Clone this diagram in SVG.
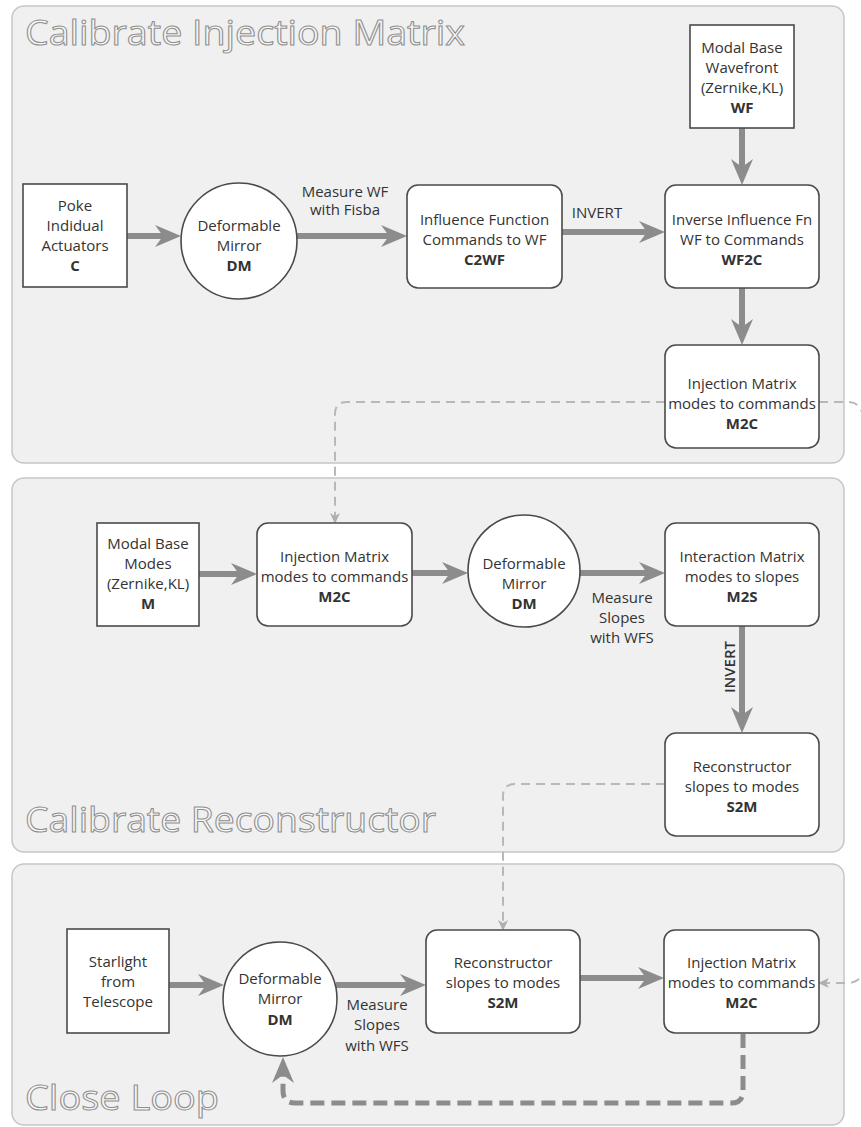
<svg xmlns="http://www.w3.org/2000/svg" width="861" height="1127" viewBox="0 0 861 1127">
<style>
.panel{fill:#f0f0f0;stroke:#c6c6c6;stroke-width:1.5}
.node{fill:#fff;stroke:#4a4a4a;stroke-width:1.6}
.t{font-family:"Open Sans","Noto Sans","DejaVu Sans",sans-serif;font-size:15px;fill:#333;text-anchor:middle}
.b{font-weight:700}
.title{font-family:"Open Sans","Noto Sans","DejaVu Sans",sans-serif;font-size:34px;fill:#f7f7f7;stroke:#8f8f8f;stroke-width:1}
.arrow{stroke:#8c8c8c;stroke-width:6;fill:none}
.dash{stroke:#b8b8b8;stroke-width:2;stroke-dasharray:9 6;fill:none}
.loop{stroke:#8c8c8c;stroke-width:5;stroke-dasharray:14 7;fill:none}
</style>
<defs>
<marker id="head" markerUnits="userSpaceOnUse" viewBox="0 0 26 22" markerWidth="26" markerHeight="22" refX="16" refY="11" orient="auto">
<path d="M0,0 L26,11 L0,22 L8,11 Z" fill="#8c8c8c"/>
</marker>
<marker id="small" markerUnits="userSpaceOnUse" viewBox="0 0 11 10" markerWidth="11" markerHeight="10" refX="9" refY="5" orient="auto">
<path d="M0,0 L11,5 L0,10 L3,5 Z" fill="#b0b0b0"/>
</marker>
</defs>

<g id="panels">
<rect class="panel" x="12" y="6" width="832" height="457" rx="12"/>
<rect class="panel" x="12" y="478" width="832" height="374" rx="12"/>
<rect class="panel" x="12" y="864" width="832" height="261" rx="12"/>
<text class="title" x="25" y="45" textLength="440" lengthAdjust="spacingAndGlyphs">Calibrate Injection Matrix</text>
<text class="title" x="25" y="832" textLength="411" lengthAdjust="spacingAndGlyphs">Calibrate Reconstructor</text>
<text class="title" x="25" y="1110" textLength="194" lengthAdjust="spacingAndGlyphs">Close Loop</text>
</g>

<g id="connectors">
<path class="arrow" d="M127,236 H171" marker-end="url(#head)"/>
<path class="arrow" d="M297,236 H397" marker-end="url(#head)"/>
<path class="arrow" d="M562,232 H655" marker-end="url(#head)"/>
<path class="arrow" d="M742,128 V175" marker-end="url(#head)"/>
<path class="arrow" d="M742,288 V335" marker-end="url(#head)"/>
<path class="dash" d="M665,402 H347 Q335,402 335,414 V522" marker-end="url(#small)"/>
<path class="dash" d="M819,402 H848 Q856,402 860,408 L866,420"/>

<path class="arrow" d="M199,574 H247" marker-end="url(#head)"/>
<path class="arrow" d="M412,573 H458" marker-end="url(#head)"/>
<path class="arrow" d="M580,573 H655" marker-end="url(#head)"/>
<path class="arrow" d="M742,626 V723" marker-end="url(#head)"/>
<path class="dash" d="M665,784 H515 Q503,784 503,796 V929" marker-end="url(#small)"/>

<path class="arrow" d="M169,985 H214" marker-end="url(#head)"/>
<path class="arrow" d="M336,985 H416" marker-end="url(#head)"/>
<path class="arrow" d="M580,978 H654" marker-end="url(#head)"/>
<path class="dash" d="M866,966 Q862,983 848,983 H820" marker-end="url(#small)"/>
<path class="loop" d="M743,1034 V1091 Q743,1103 731,1103 H295 Q283,1103 283,1091 V1067" marker-end="url(#head)"/>

<text class="t" x="345" y="197">Measure WF</text>
<text class="t" x="345" y="215">with Fisba</text>
<text class="t" x="597" y="218">INVERT</text>
<text class="t" x="622" y="603">Measure</text>
<text class="t" x="622" y="623">Slopes</text>
<text class="t" x="622" y="643">with WFS</text>
<text class="t" font-weight="600" transform="translate(735,667) rotate(-90)" x="0" y="0">INVERT</text>
<text class="t" x="377" y="1010">Measure</text>
<text class="t" x="377" y="1030">Slopes</text>
<text class="t" x="377" y="1051">with WFS</text>
</g>

<g id="poke">
<rect class="node" x="23" y="184" width="104" height="103"/>
<text class="t" x="75" y="211">Poke</text>
<text class="t" x="75" y="231">Indidual</text>
<text class="t" x="75" y="251">Actuators</text>
<text class="t b" x="75" y="271">C</text>
</g>
<g id="dm1">
<circle class="node" cx="239" cy="241" r="58"/>
<text class="t" x="239" y="231">Deformable</text>
<text class="t" x="239" y="251">Mirror</text>
<text class="t b" x="239" y="271">DM</text>
</g>
<g id="c2wf">
<rect class="node" x="407" y="185" width="155" height="103" rx="11"/>
<text class="t" x="484.5" y="225">Influence Function</text>
<text class="t" x="484.5" y="245">Commands to WF</text>
<text class="t b" x="484.5" y="265">C2WF</text>
</g>
<g id="wf">
<rect class="node" x="690" y="25" width="104" height="103"/>
<text class="t" x="742" y="53">Modal Base</text>
<text class="t" x="742" y="73">Wavefront</text>
<text class="t" x="742" y="93">(Zernike,KL)</text>
<text class="t b" x="742" y="113">WF</text>
</g>
<g id="wf2c">
<rect class="node" x="665" y="185" width="154" height="103" rx="11"/>
<text class="t" x="742" y="225">Inverse Influence Fn</text>
<text class="t" x="742" y="245">WF to Commands</text>
<text class="t b" x="742" y="265">WF2C</text>
</g>
<g id="m2c1">
<rect class="node" x="665" y="345" width="154" height="103" rx="11"/>
<text class="t" x="742" y="389">Injection Matrix</text>
<text class="t" x="742" y="409">modes to commands</text>
<text class="t b" x="742" y="429">M2C</text>
</g>

<g id="m">
<rect class="node" x="97" y="523" width="102" height="103"/>
<text class="t" x="148" y="549">Modal Base</text>
<text class="t" x="148" y="569">Modes</text>
<text class="t" x="148" y="589">(Zernike,KL)</text>
<text class="t b" x="148" y="609">M</text>
</g>
<g id="m2c2">
<rect class="node" x="257" y="523" width="155" height="103" rx="11"/>
<text class="t" x="334.5" y="562">Injection Matrix</text>
<text class="t" x="334.5" y="582">modes to commands</text>
<text class="t b" x="334.5" y="602">M2C</text>
</g>
<g id="dm2">
<circle class="node" cx="524" cy="571" r="56"/>
<text class="t" x="524" y="569">Deformable</text>
<text class="t" x="524" y="589">Mirror</text>
<text class="t b" x="524" y="609">DM</text>
</g>
<g id="m2s">
<rect class="node" x="665" y="523" width="154" height="103" rx="11"/>
<text class="t" x="742" y="562">Interaction Matrix</text>
<text class="t" x="742" y="582">modes to slopes</text>
<text class="t b" x="742" y="602">M2S</text>
</g>
<g id="s2m1">
<rect class="node" x="665" y="733" width="154" height="103" rx="11"/>
<text class="t" x="742" y="772">Reconstructor</text>
<text class="t" x="742" y="792">slopes to modes</text>
<text class="t b" x="742" y="812">S2M</text>
</g>

<g id="star">
<rect class="node" x="67" y="929" width="102" height="104"/>
<text class="t" x="118" y="967">Starlight</text>
<text class="t" x="118" y="987">from</text>
<text class="t" x="118" y="1007">Telescope</text>
</g>
<g id="dm3">
<circle class="node" cx="280" cy="999" r="57"/>
<text class="t" x="280" y="984">Deformable</text>
<text class="t" x="280" y="1004">Mirror</text>
<text class="t b" x="280" y="1025">DM</text>
</g>
<g id="s2m2">
<rect class="node" x="426" y="930" width="154" height="103" rx="11"/>
<text class="t" x="503" y="968">Reconstructor</text>
<text class="t" x="503" y="988">slopes to modes</text>
<text class="t b" x="503" y="1008">S2M</text>
</g>
<g id="m2c3">
<rect class="node" x="664" y="930" width="155" height="103" rx="11"/>
<text class="t" x="741.5" y="968">Injection Matrix</text>
<text class="t" x="741.5" y="988">modes to commands</text>
<text class="t b" x="741.5" y="1008">M2C</text>
</g>
</svg>
